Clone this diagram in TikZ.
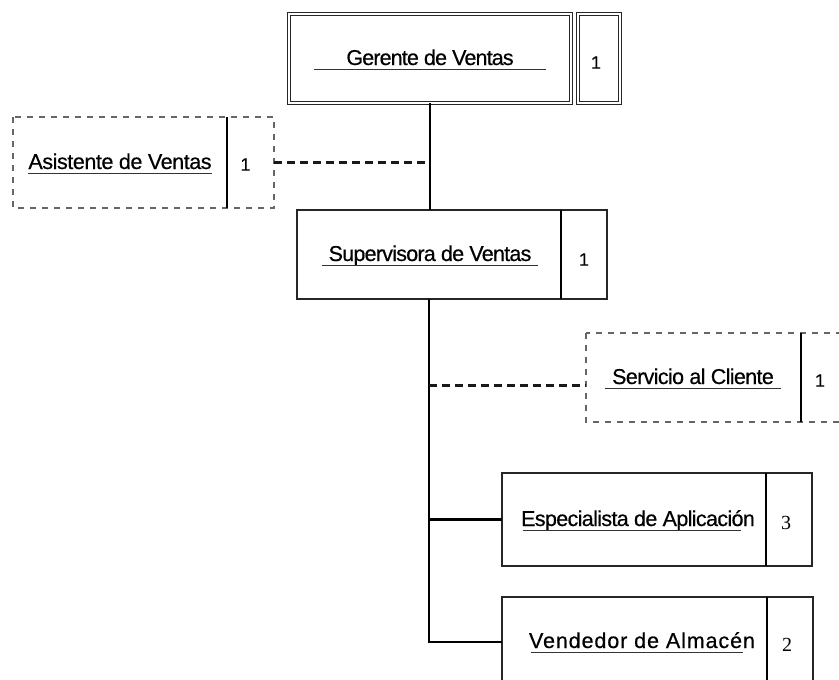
\documentclass[tikz,border=0pt]{standalone}
\usepackage{fontspec}
\setmainfont{Liberation Sans}
\newfontfamily\numserif{Liberation Serif}
\tikzset{
  box/.style={draw=black!85, line width=1.6pt, inner sep=0pt, outer sep=0pt},
  gbox/.style={draw=black!85, double, double distance=1.6pt, line width=1.1pt, inner sep=0pt, outer sep=0pt},
  ghost/.style={inner sep=0pt, outer sep=0pt},
  title/.style={font={\fontsize{21.5}{24}\selectfont\addfontfeatures{LetterSpace=#1,FakeBold=0.5}}, inner sep=0pt, anchor=base},
  title/.default=-3,
  cnt/.style={font={\fontsize{18}{20}\selectfont\addfontfeatures{FakeBold=0.3}}, inner sep=0pt},
  sercnt/.style={font={\numserif\fontsize{20}{22}\selectfont}, inner sep=0pt},
  sepline/.style={black, line width=2.4pt},
  uline/.style={black!80, line width=1.8pt},
  wire/.style={black, line width=2.2pt},
  dwire/.style={black!90, line width=2.4pt, dash pattern=on 8pt off 5pt},
  dbox/.style={black!60, line width=1.5pt, dash pattern=on 6pt off 6pt},
}
% underline below a text node: node, extra length left, extra length right
\newcommand{\titlerule}[3]{%
  \draw[uline] ([xshift=-#2,yshift=-4.5pt]#1.base west) -- ([xshift=#3,yshift=-4.5pt]#1.base east);}
\begin{document}
\begin{tikzpicture}[x=1pt,y=-1pt]
\useasboundingbox (0,0) rectangle (839,680);
\fill[white] (0,0) rectangle (839,680);
\clip (0,0) rectangle (839,680);

% Gerente de Ventas (double border)
\node[gbox, minimum width=282pt, minimum height=89pt] (ger) at (430,58.5) {};
\node[gbox, minimum width=42pt, minimum height=89pt] (gernum) at (599,58.5) {};
\node[title=-4] (gertx) at (430,65) {Gerente de Ventas};
\titlerule{gertx}{32pt}{32pt}
\node[cnt] (gerc) at ([xshift=-3pt,yshift=-4pt]gernum.center) {1};

% Asistente de Ventas (staff, dashed)
\node[ghost, minimum width=214pt, minimum height=91pt] (asi) at (120,162.5) {};
\node[ghost, minimum width=47pt, minimum height=91pt] (asinum) at (250.5,162.5) {};
\draw[dbox] (asi.north west) rectangle (asinum.south east);
\draw[sepline] (asi.north east) -- (asi.south east);
\node[title=-2] (asitx) at (120,169) {Asistente de Ventas};
\titlerule{asitx}{0pt}{0pt}
\node[cnt] (asic) at ([xshift=-5pt,yshift=-2pt]asinum.center) {1};

% Supervisora de Ventas
\node[box, minimum width=264pt, minimum height=89pt] (sup) at (429,254.5) {};
\node[box, minimum width=46pt, minimum height=89pt] (supnum) at (584,254.5) {};
\draw[sepline] (sup.north east) -- (sup.south east);
\node[title=-3.5] (suptx) at (430,261) {Supervisora de Ventas};
\titlerule{suptx}{6pt}{6pt}
\node[cnt] (supc) at ([yshift=-5pt]supnum.center) {1};

% Servicio al Cliente (staff, dashed)
\node[ghost, minimum width=215pt, minimum height=89pt] (ser) at (693.5,377.5) {};
\node[ghost, minimum width=46pt, minimum height=89pt] (sernum) at (824,377.5) {};
\draw[dbox] (ser.north west) rectangle (sernum.south east);
\draw[sepline] (ser.north east) -- (ser.south east);
\node[title=-3] (sertx) at (693,384) {Servicio al Cliente};
\titlerule{sertx}{7pt}{7pt}
\node[cnt] (serc) at ([xshift=-4pt,yshift=-3pt]sernum.center) {1};

% Especialista de Aplicacion
\node[box, minimum width=264pt, minimum height=93pt] (esp) at (634,519.5) {};
\node[box, minimum width=46pt, minimum height=93pt] (espnum) at (789,519.5) {};
\draw[sepline] (esp.north east) -- (esp.south east);
\node[title=-3] (esptx) at (638,526) {Especialista de Aplicación};
\titlerule{esptx}{-2pt}{-14pt}
\node[sercnt] (espc) at ([xshift=-3pt,yshift=-3pt]espnum.center) {3};

% Vendedor de Almacen
\node[box, minimum width=265pt, minimum height=90pt] (ven) at (634.5,642) {};
\node[box, minimum width=46pt, minimum height=90pt] (vennum) at (790,642) {};
\draw[sepline] (ven.north east) -- (ven.south east);
\node[title=4.2] (ventx) at (642,648) {Vendedor de Almacén};
\titlerule{ventx}{-2pt}{-12pt}
\node[sercnt] (venc) at ([xshift=-3pt,yshift=-3pt]vennum.center) {2};

% connectors
\draw[wire] (ger.south) -- (ger.south |- sup.north);
\draw[dwire] (asinum.east) -- (asinum.east -| ger.south);
\draw[wire] (sup.south) -- (sup.south |- ven.west) -- (ven.west);
\draw[wire] (sup.south |- esp.west) -- (esp.west);
\coordinate (serin) at ([yshift=-8pt]ser.west);
\draw[dwire] (serin -| sup.south) -- (serin);
\end{tikzpicture}
\end{document}
